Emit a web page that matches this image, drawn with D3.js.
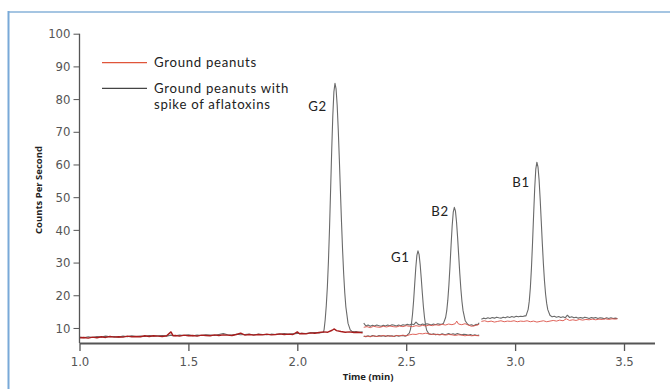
<!DOCTYPE html>
<html>
<head>
<meta charset="utf-8">
<script src="https://cdn.jsdelivr.net/npm/d3@7"></script>
<style>
body { margin: 0; background: #fff; }
svg { display: block; }
.tick text { font-family: "Liberation Sans Narrow", "DejaVu Sans", sans-serif; font-stretch: condensed; font-size: 13px; fill: #555; }
.axis path, .axis line { stroke: #555; }
.lab { font-family: Lato, "Open Sans", sans-serif; font-size: 13.2px; letter-spacing: 0.7px; fill: #222; }
.title { font-family: "Open Sans", "Noto Sans", sans-serif; font-size: 9.5px; font-weight: bold; fill: #222; }
</style>
</head>
<body>
<svg id="chart" width="670" height="389"></svg>
<script>
var Y_TICKS = [10, 20, 30, 40, 50, 60, 70, 80, 90, 100];
var X_TICKS = [1.0, 1.5, 2.0, 2.5, 3.0, 3.5];
var LEGEND = [["Ground peanuts"], ["Ground peanuts with", "spike of aflatoxins"]];
var PEAK_NAMES = ["G2", "G1", "B2", "B1"];
var PEAK_POS = [[2.093, 76.3], [2.473, 30.3], [2.655, 44.1], [3.027, 53.2]];

// spiked sample (black), [time, counts]
var spike_seg1 = [[1.00,7.2],[1.02,7.0],[1.04,7.3],[1.06,7.1],[1.08,7.4],[1.10,7.2],[1.12,7.5],[1.14,7.3],[1.16,7.4],[1.18,7.2],
  [1.20,7.5],[1.22,7.3],[1.24,7.6],[1.26,7.4],[1.28,7.5],[1.30,7.4],[1.32,7.7],[1.34,7.5],[1.36,7.6],[1.38,7.7],[1.40,7.5],
  [1.42,7.8],[1.44,7.6],[1.46,7.8],[1.48,7.7],[1.50,7.9],[1.52,7.6],[1.54,7.8],[1.56,7.7],[1.58,7.9],[1.60,7.8],[1.62,7.7],
  [1.64,8.0],[1.66,8.3],[1.68,7.9],[1.70,7.8],[1.72,8.1],[1.74,7.9],[1.76,8.0],[1.78,8.1],[1.80,7.9],[1.82,8.1],[1.84,8.0],
  [1.86,7.9],[1.88,8.1],[1.90,8.0],[1.92,8.1],[1.94,8.3],[1.96,8.1],[1.98,8.2],[2.00,8.3],[2.02,8.4],[2.04,8.3],[2.06,8.5],
  [2.08,8.6],[2.10,8.5],[2.12,8.7],[2.123,9.5],[2.128,12.5],[2.133,16.8],[2.138,22.5],[2.143,30.5],[2.148,40.6],[2.153,52.4],
  [2.158,64.4],[2.163,74.9],[2.168,82.2],[2.173,84.8],[2.178,83.1],[2.183,78.2],[2.188,70.7],[2.193,61.6],[2.198,51.8],
  [2.203,42.3],[2.208,33.7],[2.213,26.4],[2.218,20.7],[2.223,16.4],[2.233,11.4],[2.243,9.4],[2.25,9.0],[2.26,8.8],[2.27,8.9],
  [2.28,8.7],[2.30,8.8]];
var spike_seg2_low = [[2.305,7.5],[2.315,7.3],[2.325,7.6],[2.335,7.4],[2.345,7.7],[2.355,7.5],[2.365,7.4],[2.375,7.7],[2.385,7.5],
  [2.395,7.6],[2.405,7.4],[2.415,7.7],[2.425,7.5],[2.435,7.6],[2.445,7.4],[2.455,7.7],[2.465,7.5],[2.475,7.6],[2.485,7.7],
  [2.495,7.5],[2.504,7.8],[2.514,8.4],[2.519,9.4],[2.524,11.2],[2.529,14.2],[2.534,18.3],[2.539,23.4],[2.544,28.4],[2.549,32.2],
  [2.554,33.6],[2.559,32.5],[2.564,29.5],[2.569,25.3],[2.574,20.7],[2.579,16.5],[2.584,13.2],[2.589,10.8],[2.594,9.3],[2.604,8.2],
  [2.615,8.0],[2.625,8.2],[2.635,7.9],[2.645,8.1],[2.655,7.9],[2.665,8.2],[2.675,8.0],[2.685,8.1],[2.695,8.3],[2.705,8.0],
  [2.715,8.2],[2.725,8.0],[2.735,8.3],[2.745,8.1],[2.755,7.9],[2.765,8.1],[2.775,8.0],[2.785,7.8],[2.795,8.0],[2.805,7.7],
  [2.815,7.9],[2.825,7.7],[2.835,7.8]];
var spike_seg2_high = [[2.305,11.5],[2.315,10.6],[2.325,10.9],[2.335,10.5],[2.345,10.8],[2.355,10.6],[2.365,10.9],[2.375,10.7],
  [2.385,10.5],[2.395,10.8],[2.405,10.6],[2.415,10.9],[2.425,10.7],[2.435,11.0],[2.445,10.8],[2.455,10.6],[2.465,10.9],[2.475,10.7],
  [2.485,11.0],[2.495,10.8],[2.505,11.1],[2.515,10.9],[2.525,11.2],[2.535,11.0],[2.545,11.8],[2.555,11.1],[2.565,10.9],[2.575,11.2],
  [2.585,11.0],[2.595,11.3],[2.605,11.1],[2.615,10.9],[2.625,11.2],[2.635,11.0],[2.645,11.3],[2.655,11.1],[2.664,11.2],[2.671,11.4],
  [2.681,13.2],[2.686,15.2],[2.691,18.5],[2.696,23.1],[2.701,28.9],[2.706,35.3],[2.711,41.2],[2.716,45.4],[2.721,46.9],[2.726,45.8],
  [2.731,42.5],[2.736,37.7],[2.741,32.2],[2.746,26.7],[2.751,21.9],[2.756,18.1],[2.761,15.3],[2.771,12.2],[2.781,11.2],[2.79,10.8],
  [2.80,11.0],[2.81,10.7],[2.82,11.1],[2.828,11.0],[2.835,11.6]];
var spike_seg3 = [[2.845,12.7],[2.855,13.0],[2.865,12.8],[2.875,13.1],[2.885,12.9],[2.895,13.2],[2.905,13.0],[2.915,13.3],[2.925,13.1],
  [2.935,13.0],[2.945,13.3],[2.955,13.1],[2.965,13.4],[2.975,13.2],[2.985,13.5],[2.995,13.3],[3.005,13.6],[3.015,13.4],[3.025,13.6],
  [3.035,13.5],[3.045,13.7],[3.05,13.7],[3.06,15.7],[3.065,18.2],[3.07,22.3],[3.075,28.3],[3.08,36.0],[3.085,44.6],[3.09,52.7],
  [3.095,58.6],[3.10,60.7],[3.105,59.3],[3.11,55.4],[3.115,49.5],[3.12,42.7],[3.125,35.8],[3.13,29.5],[3.135,24.3],[3.14,20.3],
  [3.145,17.5],[3.15,15.6],[3.16,13.9],[3.17,13.4],[3.18,13.6],[3.19,13.3],[3.20,13.5],[3.21,13.2],[3.22,13.4],[3.23,13.1],
  [3.24,13.9],[3.25,13.2],[3.26,13.4],[3.27,13.1],[3.28,13.3],[3.29,13.0],[3.30,13.2],[3.31,13.0],[3.32,13.3],[3.33,13.1],
  [3.34,12.9],[3.35,13.2],[3.36,13.0],[3.37,13.2],[3.38,12.9],[3.39,13.1],[3.40,13.0],[3.41,12.8],[3.42,13.1],[3.43,12.9],
  [3.44,13.1],[3.45,12.9],[3.46,13.0],[3.47,12.9]];

// ground peanuts (red)
var blank_seg1 = [[1.00,7.0],[1.02,7.1],[1.04,6.9],[1.06,7.2],[1.08,7.0],[1.10,7.3],[1.12,7.1],[1.14,7.4],[1.16,7.2],[1.18,7.3],
  [1.20,7.2],[1.22,7.5],[1.24,7.3],[1.26,7.4],[1.28,7.3],[1.30,7.6],[1.32,7.4],[1.34,7.6],[1.36,7.5],[1.38,7.4],[1.40,7.6],
  [1.42,8.8],[1.43,7.6],[1.44,7.7],[1.46,7.5],[1.48,7.8],[1.50,7.6],[1.52,7.7],[1.54,7.5],[1.56,7.8],[1.58,7.7],[1.60,7.6],
  [1.62,7.9],[1.64,7.7],[1.66,7.9],[1.68,7.8],[1.70,7.7],[1.72,8.0],[1.74,8.4],[1.76,7.8],[1.78,8.0],[1.80,7.8],[1.82,8.0],
  [1.84,7.9],[1.86,8.1],[1.88,7.9],[1.90,8.0],[1.92,8.2],[1.94,8.0],[1.96,8.1],[1.98,8.0],[2.00,8.8],[2.01,8.2],[2.02,8.3],
  [2.04,8.2],[2.06,8.5],[2.08,8.4],[2.10,8.6],[2.12,8.8],[2.14,8.7],[2.16,9.3],[2.17,9.7],[2.18,9.2],[2.20,8.9],[2.22,8.7],
  [2.24,8.8],[2.26,8.6],[2.28,8.7],[2.30,8.5]];
var blank_seg2_low = [[2.305,7.4],[2.32,7.5],[2.335,7.3],[2.35,7.6],[2.365,7.4],[2.38,7.5],[2.395,7.7],[2.41,7.5],[2.425,7.6],
  [2.44,7.4],[2.455,7.7],[2.47,7.6],[2.485,7.8],[2.50,7.6],[2.515,7.9],[2.53,8.1],[2.545,8.0],[2.56,8.3],[2.575,8.2],[2.59,8.4],
  [2.605,8.2],[2.62,8.0],[2.635,8.1],[2.65,7.9],[2.665,8.0],[2.68,7.8],[2.695,8.0],[2.71,7.9],[2.725,7.7],[2.74,7.9],[2.755,7.8],
  [2.77,7.6],[2.785,7.8],[2.80,7.6],[2.815,7.7],[2.835,7.6]];
var blank_seg2_high = [[2.305,10.2],[2.32,10.4],[2.335,10.1],[2.35,10.5],[2.365,10.3],[2.38,10.2],[2.395,10.5],[2.41,10.3],
  [2.425,10.6],[2.44,10.4],[2.455,10.3],[2.47,10.6],[2.485,10.4],[2.50,10.7],[2.515,10.5],[2.53,10.4],[2.545,10.7],[2.56,10.5],
  [2.575,10.8],[2.59,10.6],[2.605,10.9],[2.62,10.7],[2.635,11.0],[2.65,10.8],[2.665,11.1],[2.68,10.9],[2.695,11.2],[2.71,11.0],
  [2.725,11.3],[2.732,12.1],[2.74,11.2],[2.755,11.0],[2.77,11.3],[2.785,10.9],[2.80,10.5],[2.815,10.7],[2.835,11.1]];
var blank_seg3 = [[2.845,12.0],[2.86,12.2],[2.875,11.9],[2.89,12.1],[2.905,11.8],[2.92,12.0],[2.935,12.2],[2.95,11.9],[2.965,12.1],
  [2.98,12.0],[2.995,12.2],[3.01,11.9],[3.025,12.1],[3.04,12.0],[3.055,12.2],[3.07,11.9],[3.085,12.1],[3.10,11.8],[3.115,12.0],
  [3.13,12.2],[3.145,11.9],[3.16,12.1],[3.175,12.3],[3.19,12.1],[3.205,12.4],[3.22,12.2],[3.235,12.8],[3.25,12.3],[3.265,12.5],
  [3.28,12.3],[3.295,12.6],[3.31,12.4],[3.325,12.6],[3.34,12.5],[3.355,12.7],[3.37,12.5],[3.385,12.7],[3.40,12.6],[3.415,12.8],
  [3.43,12.6],[3.445,12.8],[3.46,12.7],[3.47,12.8]];

var svg = d3.select("#chart");

// light blue frame
svg.append("line").attr("x1", 8).attr("x2", 670).attr("y1", 12).attr("y2", 12)
  .attr("stroke", "#a5c5e2").attr("stroke-width", 2);
svg.append("line").attr("x1", 8.5).attr("x2", 8.5).attr("y1", 11).attr("y2", 389)
  .attr("stroke", "#79a9d8").attr("stroke-width", 2);

var x = d3.scaleLinear().domain([1.0, 3.64]).range([79.5, 654.5]);
var y = d3.scaleLinear().domain([5.4, 100]).range([343, 33.7]);

var line = d3.line().x(function(d) { return x(d[0]); }).y(function(d) { return y(d[1]); });

var spiked = [spike_seg1, spike_seg2_low, spike_seg2_high, spike_seg3];
var blanks = [blank_seg1, blank_seg2_low, blank_seg2_high, blank_seg3];

svg.append("g").selectAll("path").data(spiked).enter().append("path")
  .attr("d", line).attr("fill", "none").attr("stroke", "#6a6a6a").attr("stroke-width", 1.1)
  .attr("stroke-linejoin", "round");

svg.append("g").selectAll("path").data(blanks).enter().append("path")
  .attr("d", line).attr("fill", "none")
  .attr("stroke", function(d, i) { return i == 0 ? "#a81c1c" : "#db5248"; })
  .attr("stroke-width", function(d, i) { return i == 0 ? 1.4 : 0.9; })
  .attr("stroke-linejoin", "round");

// axes
var yAxis = svg.append("g").attr("class", "axis").attr("transform", "translate(79.5,0)")
  .call(d3.axisLeft(y).tickValues(Y_TICKS).tickSize(6).tickSizeOuter(0).tickPadding(3));
yAxis.select(".domain").attr("stroke-width", 1.3).attr("d", "M0," + y(100) + "V" + 343);

var xAxis = svg.append("g").attr("class", "axis").attr("transform", "translate(0,343)")
  .call(d3.axisBottom(x).tickValues(X_TICKS).tickFormat(d3.format(".1f")).tickSize(8).tickSizeOuter(0).tickPadding(6));
xAxis.select(".domain").attr("stroke", "#666").attr("stroke-width", 2);
xAxis.selectAll(".tick line").attr("stroke-width", 1.3);

svg.append("text").attr("class", "title").attr("text-anchor", "middle")
  .attr("transform", "translate(42,190) rotate(-90)").text("Counts Per Second");
svg.append("text").attr("class", "title").attr("text-anchor", "middle")
  .attr("x", 368).attr("y", 380).text("Time (min)");

// legend
var legColors = ["#e0553a", "#444"];
var leg = svg.append("g").selectAll("g").data(LEGEND).enter().append("g")
  .attr("transform", function(d, i) { return "translate(102," + (62.7 + i * 25.6) + ")"; });
leg.append("line").attr("x1", 0).attr("x2", 45).attr("stroke-width", 1.3)
  .attr("stroke", function(d, i) { return legColors[i]; });
leg.selectAll("text").data(function(d) { return d; }).enter().append("text")
  .attr("class", "lab").attr("x", 52).attr("y", function(d, j) { return 4.5 + j * 15.9; })
  .text(function(d) { return d; });

// peak labels
svg.append("g").selectAll("text").data(PEAK_NAMES).enter().append("text")
  .attr("class", "lab").attr("text-anchor", "middle")
  .attr("x", function(d, i) { return x(PEAK_POS[i][0]); })
  .attr("y", function(d, i) { return y(PEAK_POS[i][1]); })
  .text(function(d) { return d; });
</script>
</body>
</html>
